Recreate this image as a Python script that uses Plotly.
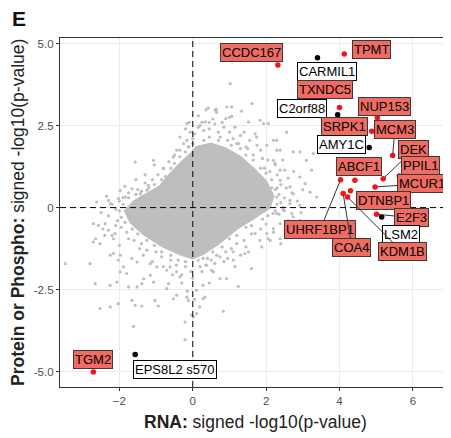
import plotly.graph_objects as go

# ---------------- data ----------------
# sparse background genes (RNA vs Protein/Phospho signed -log10 p)
bg_x = [1.02, 0.93, 1.06, 1.61, 0.64, 0.36, 1.06, 1.33, 0.9, -0.16, -0.07, 0.34, 1.84, 1.93, 1.52, 2.06,
        2.29, 2.56, 2.38, 2.74, 2.92, 3.1, 3.24, 3.29, 2.92, 3.06, 3.2, 3.38, 2.74, 2.65, 2.38, 2.2, 2.02, 1.74,
        -1.57, -1.07, -0.8, -1.21, -1.25, -1.66, -1.98, -2.3, -2.25, -2.62, -1.43, -1.48, -1.84, -0.62, -0.53,
        -0.44, -0.16, -0.12, -0.71, -0.89, -2.03,
        -3.48, -2.8, -2.71, -2.57, -2.39, -2.71, -2.53, -2.25, -2.16, -2.66, -2.25, -2.07, -2.53, -2.25, -1.62,
        -2.03, -1.66, -1.57, -1.39, -0.94, -1.03, -0.53, -0.44, -0.71, -0.66, -0.16, -0.12, -0.03, 0.02, -0.21,
        -0.21, 0.1, 0.19, 0.28, 0.33, 0.83, 0.1, 0.28, 0.74, 0.92, 0.56, 1.24, 1.6, 1.42, 1.52, 1.1, 1.83, 1.88,
        1.7, 2.02, 2.11, 2.38, 2.2, 2.74, 2.92, 2.65, 2.29, 2.47, 2.65, 2.92, -1.16, -1.07, -1.34, -1.8, -1.89,
        -1.75, -1.52, -1.39, -1.98, -2.03, -1.98, -2.16, -2.12, -2.3, -1.66, -1.52, -1.16, -0.98, -0.71, -0.62,
        -0.44, -0.35, 0.38, 0.51, 0.74, 1.1, 0.28,
        2.2, 2.29, 2.24, 2.38, 2.29, 2.46, 2.19, 2.38, 2.56, 2.65, 2.51, 2.7, 0.42, 0.61,
        0.0, 0.3, 0.7, 1.1, 1.5, 1.9, 2.1, 2.4, 2.5, 2.35, 2.0, 1.6, 1.2, 0.9, 0.5, 0.2, -0.2, -0.6, -1.0, -1.4,
        -1.8, -2.05, -2.1, -1.9, -1.5, -1.1, -0.8, -0.5, -0.25, 0.2, 0.85, 1.3, 1.75, 2.25, 2.6, 2.7, 2.6, 2.2,
        1.85, 1.4, 1.05, 0.65, 0.35, -0.05, -0.45, -0.85, -1.25, -1.6, -1.95, -2.3, -2.2, -1.75, -1.3, -0.95,
        -0.65, -0.35, 0.6, 1.0, 1.55, 0.15, 0.45, 1.25, 1.95, 2.15, 1.45, 0.95, -0.3, -1.45, -2.4,
        -0.35, -0.2, 0.05, 0.25, 0.45, 0.55, 0.75, 0.8, 1.15, 1.2, 1.4, 1.45, 1.65, 1.7, 1.85, 2.05, 1.0, 0.15,
        -0.1, 0.65,
        2.3, 2.45, 2.55, 2.75, 2.85, 2.5, 2.8, 2.4, 2.05, 3.0, 2.95, 2.25, 2.4,
        -2.45, -2.2, -2.5, -2.0, -2.35, -2.0, -1.75, -1.85, -1.55, -1.3, -1.05, -2.65, -2.1,
        -0.8, -0.55, -0.3, 0.0, 0.25, 0.45, 0.6, 0.85, -1.1, -0.15, 0.05, -1.35, 1.15, 1.3,
        0.3, 0.7, 1.05, 1.45, 1.85, 2.15, 2.35, 2.25, 1.9, 1.45, 1.0, 0.55, 0.15, -0.2, -0.6, -1.05, -1.5,
        -1.85, -2.0, -1.75, -1.4, -1.05, -0.75, -0.5, -0.2, 0.0,
        0.45, 0.95, 1.3, 1.65, 2.0, 2.3, 2.3, 2.05, 1.6, 1.2, 0.8, 0.4, -0.4, -0.85, -1.25, -1.65, -1.95,
        -1.9, -1.55, -1.2, -0.85, -0.6, -0.35, -0.1]
bg_y = [3.78, 3.07, 3.07, 3.17, 3.0, 2.98, 2.78, 2.94, 2.71, 2.56, 2.3, 2.61, 2.66, 2.56, 2.61, 2.56,
        2.05, 2.3, 1.75, 1.7, 1.7, 1.44, 1.14, 1.65, 0.93, 0.73, 0.47, 0.32, 0.42, 0.22, 1.14, 1.44, 1.9, 2.15,
        1.39, 1.44, 1.19, 0.68, 0.53, 0.57, 0.52, 0.22, 0.12, 0.17, 0.42, 0.22, 0.32, 0.98, 1.54,
        1.75, 2.05, 1.85, 0.73, 0.47, 0.27,
        -1.71, -1.71, -0.49, -0.54, -0.49, -1.05, -1.1, -1.45, -1.4, -2.32, -2.37, -2.27, -3.08, -3.03, -3.62,
        -2.93, -2.83, -2.98, -3.0, -3.0, -2.83, -2.78, -2.67, -2.47, -2.32, -2.73, -2.83, -3.28, -3.33, -3.49,
        -4.03, -3.23, -3.03, -2.78, -2.73, -3.16, -2.52, -2.37, -2.17, -2.17, -1.96, -2.4, -1.86, -1.4, -1.35,
        -1.35, -1.0, -1.2, -0.79, -0.79, -1.0, -0.95, -0.64, -0.28, -0.39, -0.54, -0.18, -0.08, 0.12, 0.07,
        -2.06, -2.27, -2.17, -2.01, -1.81, -2.42, -2.42, -2.32, -1.96, -1.6, -1.45, -0.95, -0.79, -0.69, -1.55,
        -1.66, -1.71, -1.81, -1.91, -1.81, -1.96, -2.11, -1.76, -1.91, -1.5, -1.6, -1.55,
        2.05, 1.75, 1.35, 0.83, 0.32, 0.0, -0.18, -0.49, -0.9, 0.63, 1.14, -0.18, 3.03, 2.97,
        2.1, 2.35, 2.3, 2.1, 1.8, 1.5, 1.1, 0.7, 0.3, -0.2, -0.5, -0.8, -1.1, -1.35, -1.6, -1.8, -1.8, -1.6,
        -1.35, -1.1, -0.75, -0.4, -0.05, 0.3, 0.55, 0.85, 1.2, 1.6, 1.95, 2.5, 2.45, 2.2, 1.9, 1.3, 0.9, 0.45,
        -0.4, -0.75, -0.65, -1.0, -1.25, -1.45, -1.75, -1.95, -1.75, -1.5, -1.3, -1.0, -0.6, -0.25, 0.1, 0.45,
        0.75, 1.0, 1.4, 1.75, 2.55, 2.3, 2.05, 2.45, 2.6, 1.95, 1.2, 0.6, -1.2, -1.55, -2.05, -1.25, -0.85,
        2.15, 2.4, 2.25, 2.6, 2.4, 2.7, 2.15, 2.6, 2.45, 1.95, 2.3, 1.85, 1.6, 2.25, 1.75, 1.45, 2.75, 2.8,
        2.6, 2.9,
        1.0, 1.45, 0.6, 1.1, 0.2, -0.1, -0.6, -1.1, -0.95, 0.55, -0.15, 0.55, 0.15,
        -0.65, -0.85, -0.15, 0.2, 0.35, -1.15, -0.95, 0.65, 0.85, 1.0, 1.3, -0.95, -0.55,
        -1.8, -2.05, -2.3, -2.15, -1.95, -2.3, -1.7, -1.65, -1.65, -2.55, -2.8, -1.45, -1.8, -1.45,
        2.05, 2.05, 1.9, 1.6, 1.2, 0.85, 0.4, -0.1, -0.35, -0.6, -0.95, -1.35, -1.6, -1.65, -1.45, -1.15, -0.8,
        -0.45, -0.1, 0.3, 0.5, 0.7, 0.95, 1.35, 1.7, 1.95,
        2.15, 2.05, 1.8, 1.45, 1.05, 0.6, 0.1, -0.25, -0.55, -0.85, -1.2, -1.55, -1.6, -1.35, -1.0, -0.65, -0.3,
        0.1, 0.4, 0.6, 0.85, 1.2, 1.55, 1.85]

# dense core of the cloud (outline of the solid region)
core_x = [0.1, 0.5, 0.9, 1.3, 1.7, 2.0, 2.2, 2.1, 1.7, 1.2, 0.7, 0.3, 0.0, -0.3, -0.8, -1.3, -1.7, -1.85,
          -1.6, -1.2, -0.9, -0.6, -0.3, -0.05]
core_y = [1.85, 1.95, 1.8, 1.55, 1.15, 0.8, 0.35, 0.0, -0.3, -0.65, -1.1, -1.4, -1.55, -1.45, -1.2, -0.85,
          -0.45, -0.1, 0.2, 0.45, 0.65, 1.05, 1.4, 1.65]

# highlighted genes
genes = ["CCDC167", "CARMIL1", "TPMT", "TXNDC5", "C2orf88", "NUP153", "SRPK1", "MCM3", "AMY1C", "DEK",
         "PPIL1", "MCUR1", "ABCF1", "DTNBP1", "E2F3", "LSM2", "UHRF1BP1", "COA4", "KDM1B", "TGM2",
         "EPS8L2 s570"]
gene_x = [2.32, 3.40, 4.13, 4.00, 3.95, 5.03, 4.88, 5.45, 4.81, 5.19, 5.63, 4.97, 4.42, 4.30, 5.01, 5.15,
          4.03, 4.10, 4.22, -2.71, -1.57]
gene_y = [4.35, 4.57, 4.68, 3.05, 2.83, 2.74, 2.33, 1.59, 1.83, 0.88, 0.96, 0.63, 0.83, 0.51, -0.20, -0.29,
          0.85, 0.43, 0.32, -5.01, -4.48]
gene_sig = [True, False, True, True, False, True, True, True, False, True, True, True, True, True, True,
            False, True, True, True, True, False]

# ---------------- layout helpers (label placement) ----------------
label_pos = {
    "CCDC167": (1.59, 4.72, False), "CARMIL1": (3.65, 4.16, False), "TPMT": (4.86, 4.82, False),
    "TXNDC5": (3.61, 3.59, False), "C2orf88": (2.98, 3.02, False), "NUP153": (5.23, 3.08, False),
    "SRPK1": (4.14, 2.46, False), "MCM3": (5.51, 2.39, True), "AMY1C": (4.06, 1.91, False),
    "DEK": (6.03, 1.78, True), "PPIL1": (6.22, 1.27, False), "MCUR1": (6.24, 0.72, True),
    "ABCF1": (4.52, 1.24, False), "DTNBP1": (5.21, 0.22, False), "E2F3": (5.95, -0.31, True),
    "LSM2": (5.69, -0.82, False), "UHRF1BP1": (3.47, -0.68, True), "COA4": (4.34, -1.23, True),
    "KDM1B": (5.71, -1.35, True), "TGM2": (-2.72, -4.62, False), "EPS8L2 s570": (-0.49, -4.95, False),
}

GRAY = "#BEBEBE"
RED_PT = "#F0151B"
RED_LAB = "#F06C62"
FONT = "Liberation Sans, Arial, sans-serif"
X_RANGE = [-3.62, 7.04]
Y_RANGE = [-5.47, 5.17]

fig = go.Figure()

fig.add_trace(go.Scatter(x=core_x + [core_x[0]], y=core_y + [core_y[0]], mode="lines", fill="toself",
                         fillcolor=GRAY, line=dict(color=GRAY, width=2), hoverinfo="skip", showlegend=False))
fig.add_trace(go.Scatter(x=bg_x, y=bg_y, mode="markers", marker=dict(color=GRAY, size=3.2),
                         hoverinfo="skip", showlegend=False))

px_ = [x for x, s in zip(gene_x, gene_sig) if not s]
py_ = [y for y, s in zip(gene_y, gene_sig) if not s]
fig.add_trace(go.Scatter(x=px_, y=py_, mode="markers", marker=dict(color="black", size=5.5), showlegend=False))
px_ = [x for x, s in zip(gene_x, gene_sig) if s]
py_ = [y for y, s in zip(gene_y, gene_sig) if s]
fig.add_trace(go.Scatter(x=px_, y=py_, mode="markers", marker=dict(color=RED_PT, size=5.5), showlegend=False))

for g, x, y, s in zip(genes, gene_x, gene_y, gene_sig):
    lx, ly, seg = label_pos[g]
    common = dict(text=g, font=dict(family=FONT, size=13, color="black"),
                  bgcolor=RED_LAB if s else "white",
                  bordercolor="#3a3a3a" if s else "black", borderwidth=1, borderpad=1)
    if seg:
        fig.add_annotation(x=x, y=y, ax=lx, ay=ly, axref="x", ayref="y", showarrow=True,
                           arrowhead=0, arrowwidth=1, arrowcolor="#333333", standoff=2, **common)
    else:
        fig.add_annotation(x=lx, y=ly, showarrow=False, **common)

# reference dashed lines
fig.add_shape(type="line", x0=0, x1=0, y0=Y_RANGE[0], y1=Y_RANGE[1],
              line=dict(color="black", width=1, dash="6px,4px"), layer="above")
fig.add_shape(type="line", x0=X_RANGE[0], x1=X_RANGE[1], y0=0, y1=0,
              line=dict(color="black", width=1, dash="6px,4px"), layer="above")

# panel letter and axis titles
fig.add_annotation(x=-0.1036, y=1.0565, xref="paper", yref="paper", xanchor="center", yanchor="middle",
                   text="<b>E</b>", showarrow=False, font=dict(family=FONT, size=21, color="#111111"))
fig.add_annotation(x=0.5, y=-0.066, xref="paper", yref="paper", xanchor="center", yanchor="top",
                   text="<b>RNA:</b> signed -log10(p-value)", showarrow=False,
                   font=dict(family=FONT, size=17.5, color="#222222"))
fig.add_annotation(x=-0.109, y=0.5, xref="paper", yref="paper", xanchor="center", yanchor="middle",
                   textangle=-90, text="<b>Protein or Phospho:</b> signed -log10(p-value)", showarrow=False,
                   font=dict(family=FONT, size=17.5, color="#222222"))

# page body has an 8px margin, so the figure is sized/offset to place the panel as in the reference
fig.update_layout(
    width=443, height=430, margin=dict(l=52, r=0, t=30, b=51),
    paper_bgcolor="white", plot_bgcolor="white",
    font=dict(family=FONT),
    xaxis=dict(range=X_RANGE, tickvals=[-2, 0, 2, 4, 6], showgrid=True, gridcolor="#EBEBEB",
               zeroline=False, showline=True, linecolor="#333333", linewidth=1.2, mirror=True,
               ticks="outside", ticklen=3, tickcolor="#333333",
               tickfont=dict(family=FONT, size=11.5, color="#4D4D4D")),
    yaxis=dict(range=Y_RANGE, tickvals=[-5, -2.5, 0, 2.5, 5],
               ticktext=["-5.0", "-2.5", "0", "2.5", "5.0"], showgrid=True, gridcolor="#EBEBEB",
               zeroline=False, showline=True, linecolor="#333333", linewidth=1.2,
               ticks="outside", ticklen=3, tickcolor="#333333",
               tickfont=dict(family=FONT, size=11.5, color="#4D4D4D")),
)

fig.write_html("out.html")
